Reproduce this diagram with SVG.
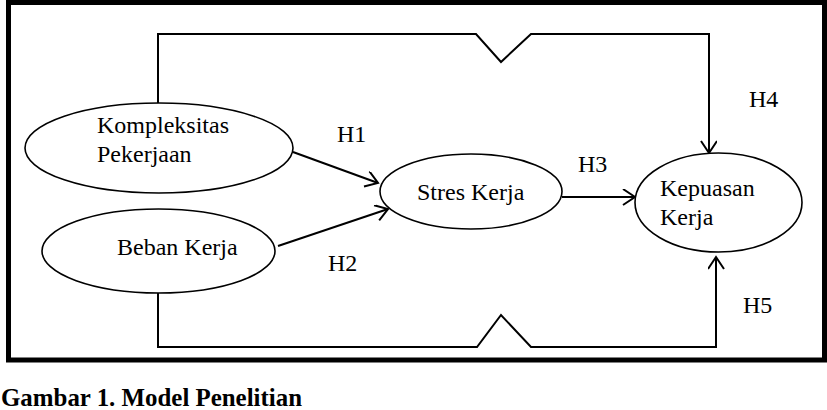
<svg xmlns="http://www.w3.org/2000/svg" width="827" height="410" viewBox="0 0 827 410">
<style>
.frame{fill:none;stroke:#000;stroke-width:5}
.node ellipse{fill:#fff;stroke:#000;stroke-width:1.6}
.t{font-family:"Liberation Serif","Times New Roman",serif;font-size:24px;fill:#000}
.cap{font-family:"Liberation Serif","Times New Roman",serif;font-size:25px;font-weight:bold;fill:#000}
.conn{fill:none;stroke:#000;stroke-width:2}
</style>
<defs>
<marker id="arr" markerUnits="userSpaceOnUse" markerWidth="20" markerHeight="20" refX="13" refY="8" orient="auto" viewBox="0 0 20 20">
<path d="M1,0 L13,8 L1,16" fill="none" stroke="#000" stroke-width="2"/>
</marker>
</defs>
<rect class="frame" x="8.5" y="2.5" width="816" height="357.5"/>
<g id="connectors">
<path class="conn" d="M158,104 V34 H476 L501,62 L531,34 H709 V153" marker-end="url(#arr)"/>
<path class="conn" d="M158,293 V347 H477 L501,315 L531,347 H716 V257" marker-end="url(#arr)"/>
<path class="conn" d="M293,152 L378,183" marker-end="url(#arr)"/>
<path class="conn" d="M278,246 L388,209" marker-end="url(#arr)"/>
<path class="conn" d="M562,197 L635,197" marker-end="url(#arr)"/>
<text class="t" x="337" y="142">H1</text>
<text class="t" x="328" y="271">H2</text>
<text class="t" x="578" y="172">H3</text>
<text class="t" x="749" y="107">H4</text>
<text class="t" x="743" y="313">H5</text>
</g>
<g id="kompleksitas" class="node">
<ellipse cx="159" cy="148" rx="134" ry="45"/>
<text class="t" x="97" y="133">Kompleksitas</text>
<text class="t" x="97" y="162">Pekerjaan</text>
</g>
<g id="beban" class="node">
<ellipse cx="158.5" cy="251" rx="116.5" ry="42"/>
<text class="t" x="117" y="255">Beban Kerja</text>
</g>
<g id="stres" class="node">
<ellipse cx="471" cy="191.5" rx="91" ry="37.5"/>
<text class="t" x="417" y="200">Stres Kerja</text>
</g>
<g id="kepuasan" class="node">
<ellipse cx="718.5" cy="202.5" rx="83.5" ry="49.5"/>
<text class="t" x="660" y="196">Kepuasan</text>
<text class="t" x="660" y="225">Kerja</text>
</g>
<text class="cap" x="1" y="406" textLength="301" lengthAdjust="spacingAndGlyphs">Gambar 1. Model Penelitian</text>
</svg>
